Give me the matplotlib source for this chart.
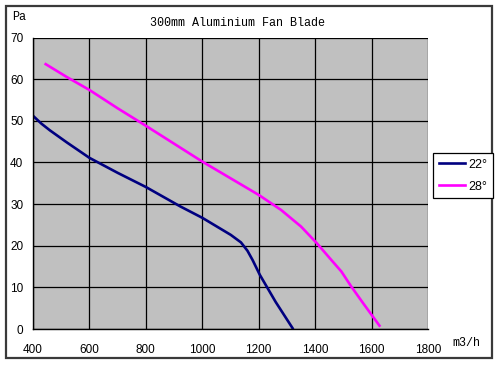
import matplotlib
matplotlib.use("Agg")
import matplotlib.pyplot as plt
from matplotlib.patches import Rectangle

# ------------------- DATA -------------------
flow_22 = [400, 430, 460, 520, 600, 700, 800, 923, 1000, 1101, 1137, 1160, 1178, 1204, 1260, 1320]
pres_22 = [51.2, 49.3, 47.7, 44.8, 41.1, 37.5, 34.1, 29.4, 26.7, 22.6, 20.8, 18.8, 16.6, 13.0, 6.5, 0.2]

flow_28 = [445, 520, 600, 700, 800, 900, 1000, 1100, 1200, 1279, 1350, 1406, 1457, 1493, 1528, 1570, 1628]
pres_28 = [63.6, 60.5, 57.4, 53.0, 48.8, 44.5, 40.2, 36.2, 32.2, 28.6, 24.6, 20.6, 16.6, 13.8, 10.2, 6.2, 0.8]

series_labels = ["22°", "28°"]
x_ticks = [400, 600, 800, 1000, 1200, 1400, 1600, 1800]
y_ticks = [0, 10, 20, 30, 40, 50, 60, 70]
# ---------------------------------------------

W, H = 500, 365
fig = plt.figure(figsize=(W / 100, H / 100), dpi=100)
fig.patch.set_facecolor("white")

# outer frame
fig.add_artist(Rectangle((6 / W, 1 - 358 / H), 486 / W, 352 / H, transform=fig.transFigure,
                         fill=False, edgecolor="#3a3a3a", linewidth=1.6))

ax = fig.add_axes([33 / W, 1 - 329 / H, (428 - 33) / W, (329 - 37.5) / H])
ax.set_facecolor("#c0c0c0")

l1, = ax.plot(flow_22, pres_22, color="#000080", linewidth=1.9, label=series_labels[0])
l2, = ax.plot(flow_28, pres_28, color="#ff00ff", linewidth=1.9, label=series_labels[1])

ax.set_xlim(400, 1800)
ax.set_ylim(0, 70)
ax.set_xticks(x_ticks)
ax.set_yticks(y_ticks)
ax.grid(True, color="black", linewidth=0.9)
ax.set_axisbelow(True)
for side in ["top", "right"]:
    ax.spines[side].set_visible(False)
for side in ["left", "bottom"]:
    ax.spines[side].set_color("black")
    ax.spines[side].set_linewidth(1.0)

ax.tick_params(axis="both", length=0, labelsize=8.5, colors="black")
ax.tick_params(axis="x", pad=10.5)
ax.tick_params(axis="y", pad=7)
for lab in ax.get_xticklabels() + ax.get_yticklabels():
    lab.set_fontfamily("Liberation Sans")

mono = "Liberation Mono"
fig.text(237 / W, 1 - 23 / H, "300mm Aluminium Fan Blade", ha="center", va="center",
         fontsize=8.5, family=mono)
fig.text(12 / W, 1 - 17 / H, "Pa", ha="left", va="center", fontsize=8.5, family=mono)
fig.text(452 / W, 1 - 343 / H, "m3/h", ha="left", va="center", fontsize=8.5, family=mono)

leg = fig.legend(handles=[l1, l2], loc="upper left",
                 bbox_to_anchor=(433 / W, 1 - 153 / H), bbox_transform=fig.transFigure,
                 frameon=True, fancybox=False, edgecolor="black", framealpha=1,
                 prop={"family": "Liberation Sans", "size": 9},
                 handlelength=2.1, handletextpad=0.25, borderpad=0.45, labelspacing=0.8,
                 borderaxespad=0)
leg.get_frame().set_linewidth(0.9)

fig.savefig("out.png", dpi=100)
